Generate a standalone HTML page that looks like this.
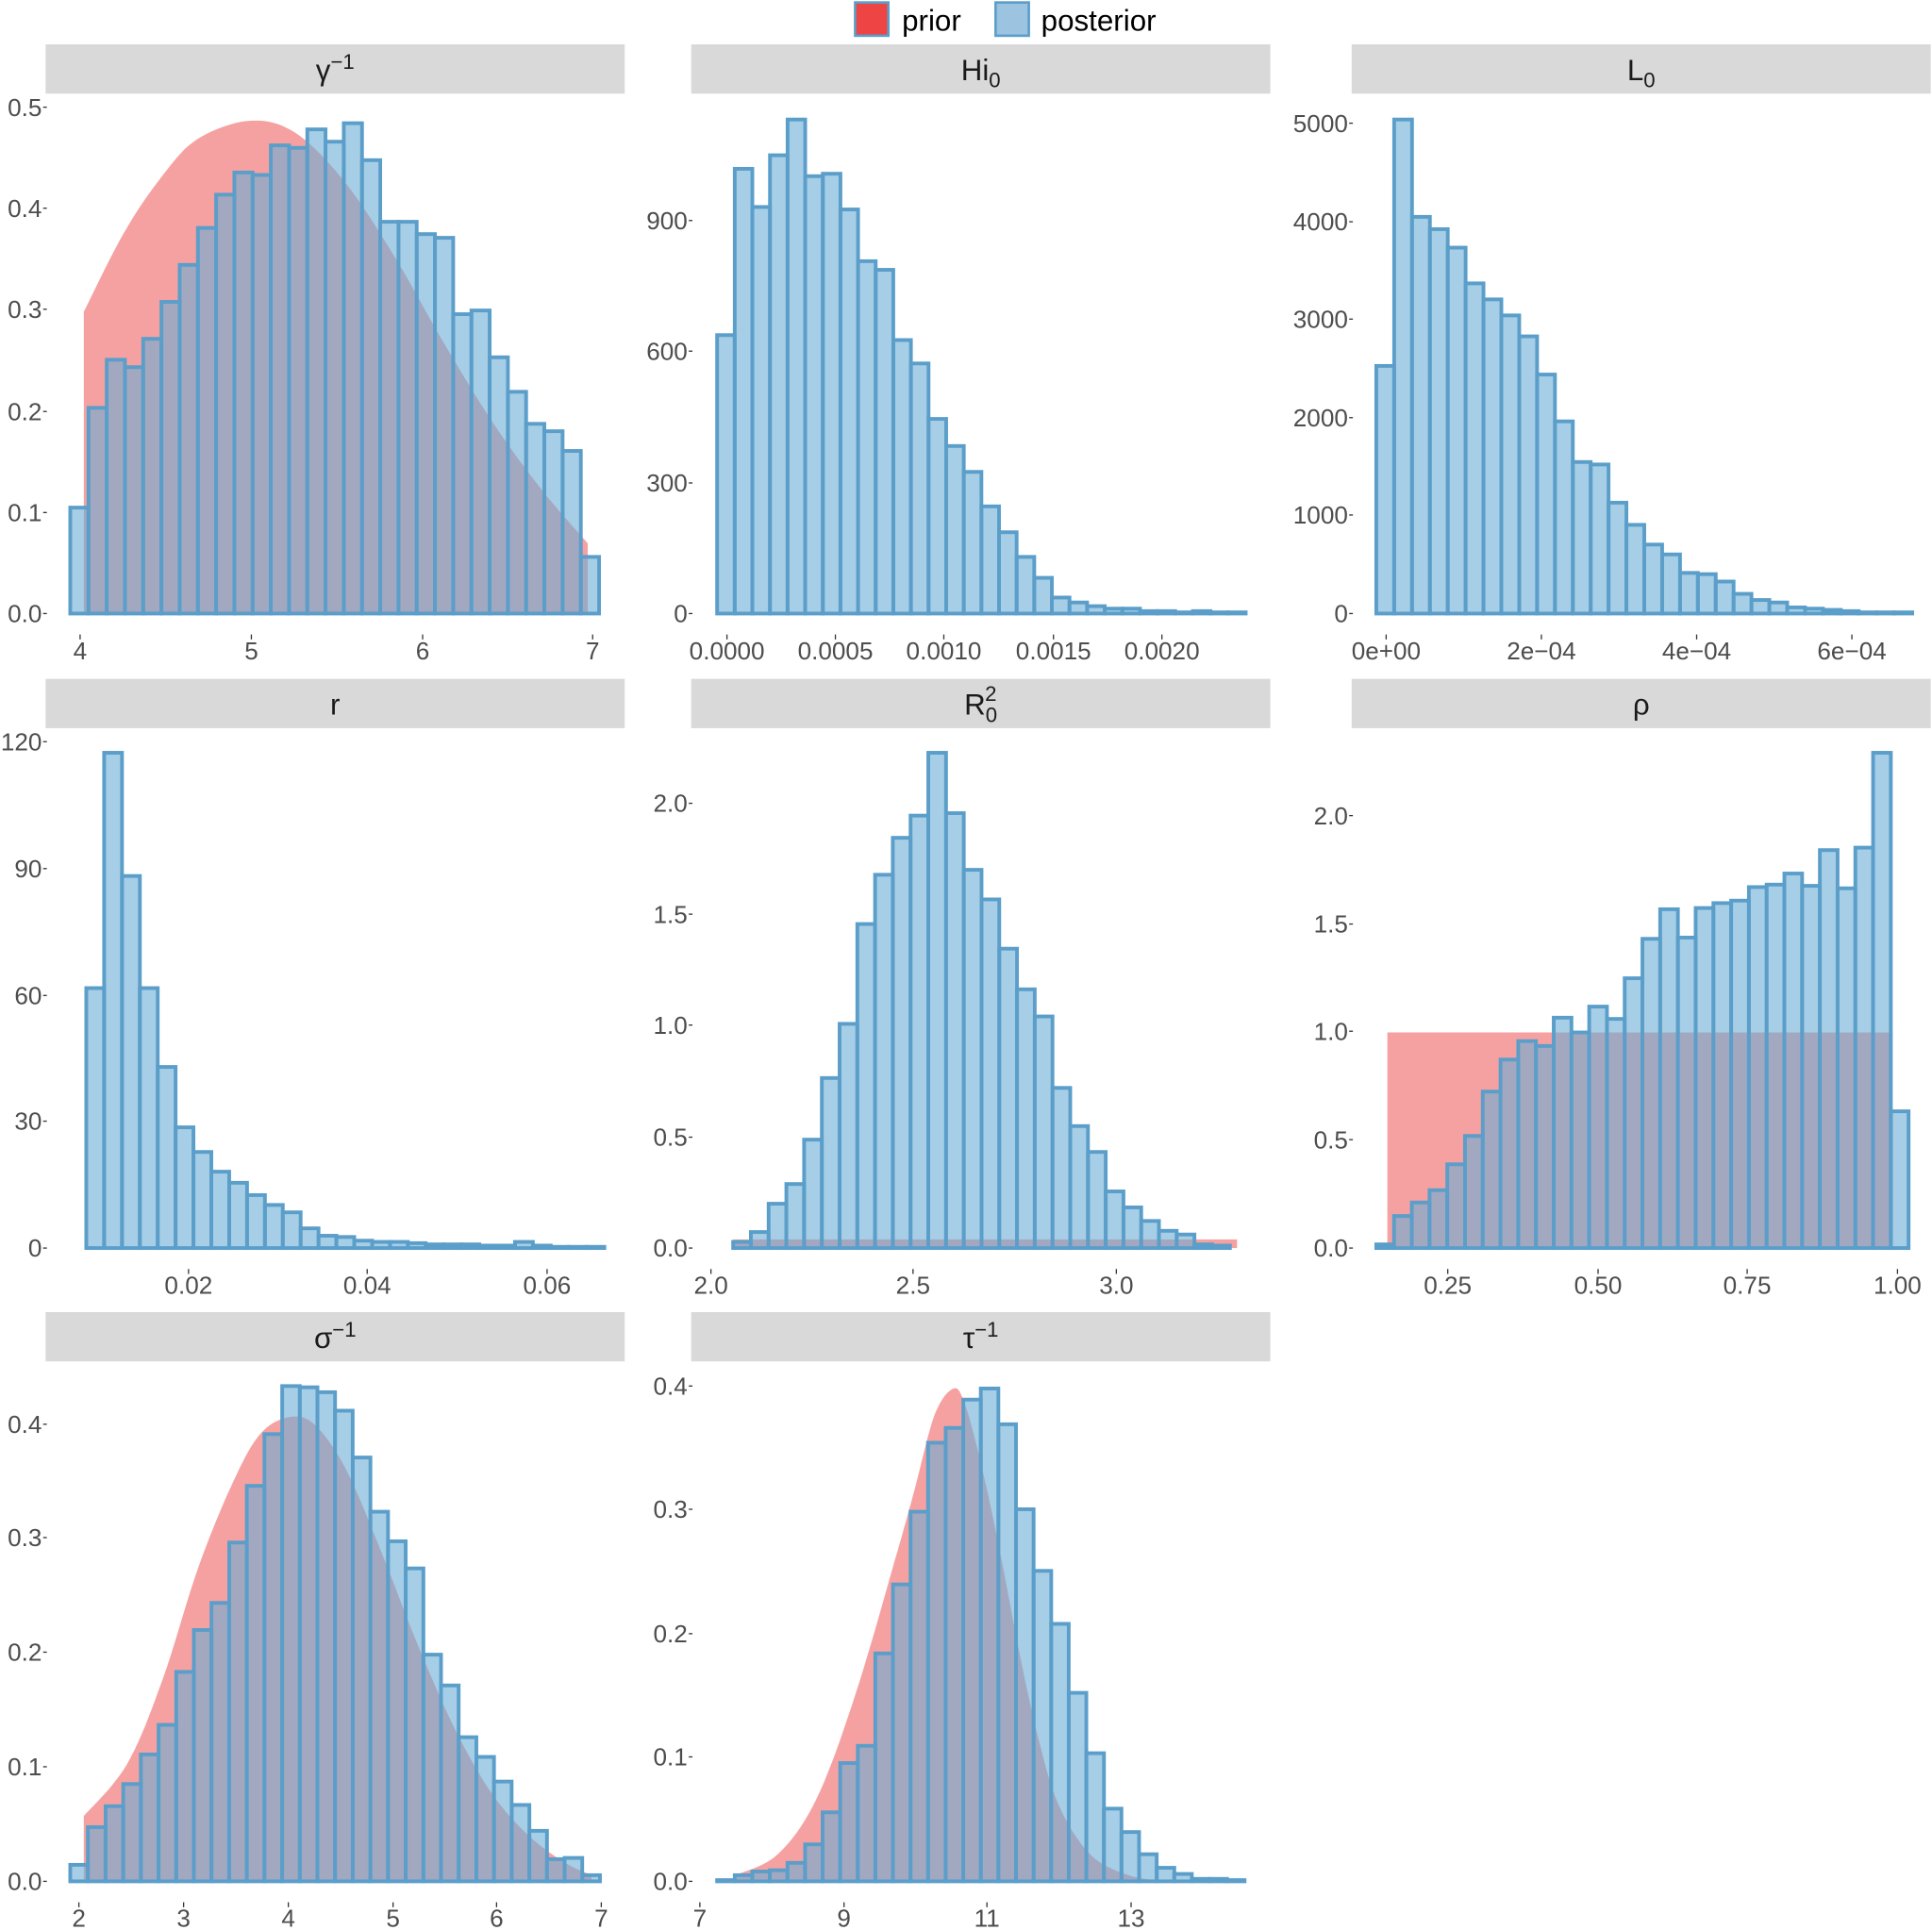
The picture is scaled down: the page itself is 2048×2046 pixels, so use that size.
<!DOCTYPE html>
<html><head><meta charset="utf-8"><style>
html,body{margin:0;padding:0;background:#fff}
svg{display:block}
text{font-family:"Liberation Sans",Arial,sans-serif;fill:#4d4d4d}
</style></head><body>
<svg id="s" width="2048" height="2046" viewBox="0 0 1568 1566.5" xmlns="http://www.w3.org/2000/svg">
<rect width="1568" height="1567" fill="#fff"/>
<g id="g"></g>
<rect x="694" y="2" width="27" height="27" fill="#ee4444" stroke="#5b9ec9" stroke-width="2"/>
<text x="732" y="25" font-size="24" style="fill:#000">prior</text>
<rect x="808" y="2" width="27" height="27" fill="#9cc3e0" stroke="#5b9ec9" stroke-width="2"/>
<text x="845" y="25" font-size="24" style="fill:#000">posterior</text>
</svg>
<script>
var g=document.getElementById('g'),h='';
function strip(x,y,title){h+='<rect x="'+x+'" y="'+y+'" width="470" height="40" fill="#d9d9d9"/>'+
 '<text x="'+(x+235)+'" y="'+(y+29)+'" font-size="24" text-anchor="middle" style="fill:#1a1a1a">'+title+'</text>';}
function bars(x0,w,zero,tops){for(var i=0;i<tops.length;i++){var x=x0+i*w;
 h+='<rect x="'+x.toFixed(1)+'" y="'+tops[i].toFixed(1)+'" width="'+w.toFixed(2)+'" height="'+(zero-tops[i]).toFixed(1)+'" fill="#6baed6" fill-opacity="0.6" stroke="#5b9ec9" stroke-width="3"/>';}}
function prior(pts,zero){var d='M'+pts[0][0].toFixed(1)+','+zero+' L'+pts.map(function(p){return p[0].toFixed(1)+','+p[1].toFixed(1)}).join(' L')+' L'+pts[pts.length-1][0].toFixed(1)+','+zero+'Z';
 h+='<path d="'+d+'" fill="#ee4444" fill-opacity="0.5"/>';}
function yax(xr,ticks){ticks.forEach(function(t){h+='<text x="'+(xr-3)+'" y="'+(t[1]+7)+'" font-size="20" text-anchor="end">'+t[0]+'</text><line x1="'+(xr-2)+'" x2="'+(xr+1)+'" y1="'+t[1]+'" y2="'+t[1]+'" stroke="#333" stroke-width="1"/>';});}
function xax(yb,ticks){ticks.forEach(function(t){h+='<text x="'+t[1]+'" y="'+(yb+37)+'" font-size="20" text-anchor="middle">'+t[0]+'</text><line x1="'+t[1]+'" x2="'+t[1]+'" y1="'+(yb+17)+'" y2="'+(yb+21)+'" stroke="#333"/>';});}
function spline(pts){var out=[];for(var i=0;i<pts.length-1;i++){var p0=pts[Math.max(i-1,0)],p1=pts[i],p2=pts[i+1],p3=pts[Math.min(i+2,pts.length-1)];
 for(var k=0;k<10;k++){var t=k/10,t2=t*t,t3=t2*t;var f=function(a,b,c,d){return 0.5*(2*b+(-a+c)*t+(2*a-5*b+4*c-d)*t2+(-a+3*b-3*c+d)*t3)};
 out.push([f(p0[0],p1[0],p2[0],p3[0]),f(p0[1],p1[1],p2[1],p3[1])]);}}out.push(pts[pts.length-1]);return out;}
function zy(v){return 1527-(1497-v)*0.2841;}
// Panel 1
strip(37,36,'γ<tspan dy="-9" font-size="17">−1</tspan>');
prior(spline([[68,253],[100,190],[130,145],[160,113],[203,98],[240,108],[280,148],[320,208],[360,278],[400,343],[440,398],[477,441]]),498);
bars(57,14.8,498,[412,331,292,298,275,245,215,185,158,140,142,118,120,105,115,100,130,180,180,190,193,255,252,290,318,344,350,366,452]);
yax(37,[['0.0',498],['0.1',416],['0.2',334],['0.3',251],['0.4',169],['0.5',87]]);
xax(498,[['4',65],['5',204],['6',343],['7',481]]);
// Panel 2
strip(561,36,'Hi<tspan dy="6" font-size="17">0</tspan>');
bars(582,14.3,498,[272,137,168,126,97,143,141,170,212,219,276,295,340,362,383,411,432,452,469,485,489,492,494,494,496,496,497,496,497,497]);
yax(561,[['0',498],['300',392],['600',285],['900',179]]);
xax(498,[['0.0000',590],['0.0005',678],['0.0010',766],['0.0015',855],['0.0020',943]]);
// Panel 3
strip(1097,36,'L<tspan dy="6" font-size="17">0</tspan>');
bars(1117,14.5,498,[297,97,176,186,201,230,243,256,273,304,342,375,377,408,426,442,450,465,466,472,482,487,489,493,494,495,496,497,497,497]);
yax(1097,[['0',498],['1000',418],['2000',339],['3000',259],['4000',180],['5000',100]]);
xax(498,[['0e+00',1125],['2e−04',1251],['4e−04',1377],['6e−04',1503]]);
// Panel 4
strip(37,551,'r');
bars(70,14.5,1013,[802,611,711,802,866,915,935,951,960,970,978,984,997,1003,1004,1007,1008,1008,1009,1010,1010,1010,1011,1011,1008,1011,1012,1012,1012]);
yax(37,[['0',1013],['30',910],['60',808],['90',705],['120',602]]);
xax(1013,[['0.02',153],['0.04',298],['0.06',444]]);
// Panel 5
strip(561,551,'R<tspan dy="6" font-size="17">0</tspan><tspan dx="-10" dy="-17" font-size="17">2</tspan>');
h+='<rect x="595" y="1006" width="409" height="7" fill="#ee4444" fill-opacity="0.5"/>';
bars(595,14.4,1013,[1008,1000,977,961,925,875,831,750,710,680,662,611,660,706,730,770,803,825,883,914,935,967,980,991,999,1002,1010,1011]);
yax(561,[['0.0',1013],['0.5',923],['1.0',832],['1.5',742],['2.0',652]]);
xax(1013,[['2.0',577],['2.5',741],['3.0',906]]);
// Panel 6
strip(1097,551,'ρ');
h+='<rect x="1126" y="838" width="410" height="175" fill="#ee4444" fill-opacity="0.5"/>';
bars(1117,14.4,1013,[1010,987,976,966,945,922,886,860,845,849,826,838,817,827,794,762,738,761,737,733,731,720,718,709,719,690,721,688,611,902]);
yax(1097,[['0.0',1013],['0.5',925],['1.0',837],['1.5',750],['2.0',662]]);
xax(1013,[['0.25',1175],['0.50',1297],['0.75',1418],['1.00',1540]]);
// Panel 7
strip(37,1065,'σ<tspan dy="-9" font-size="17">−1</tspan>');
prior(spline([[68,1474],[103,1432],[132,1363],[161,1272],[190,1201],[212,1163],[236,1150],[256,1157],[281,1193],[310,1261],[339,1335],[369,1403],[398,1454],[427,1488],[457,1511],[480,1522]]),1527);
bars(57,14.33,1527,[1513.6,1483,1466,1448,1424,1400,1357,1323,1301,1252,1206,1164,1125,1126,1130,1145,1183,1227,1251,1273,1343,1368,1410,1426,1446,1465,1486,1509,1508,1522]);
yax(37,[['0.0',1527],['0.1',1434],['0.2',1341],['0.3',1248],['0.4',1156]]);
xax(1527,[['2',64],['3',149],['4',234],['5',319],['6',403],['7',488]]);
// Panel 8
strip(561,1065,'τ<tspan dy="-9" font-size="17">−1</tspan>');
var zp=[[190,1480],[300,1420],[400,1260],[500,960],[600,580],[650,380],[700,170],[745,92],[775,120],[820,300],[870,560],[920,850],[970,1100],[1020,1280],[1100,1420],[1200,1480],[1300,1497]];
prior(spline(zp.map(function(p){return [582+(p[0]-145)*0.317, zy(p[1])];})),1527);
bars(582,14.27,1527,[1526,1522,1519,1518,1512,1497,1471,1431,1417,1342,1286,1227,1171,1159,1136,1127,1156,1225,1275,1318,1374,1423,1468,1487,1505,1516,1521,1525,1525,1526]);
yax(561,[['0.0',1527],['0.1',1426],['0.2',1326],['0.3',1225],['0.4',1125]]);
xax(1527,[['7',568],['9',685],['11',801],['13',918]]);
g.innerHTML=h;
</script>
</body></html>
